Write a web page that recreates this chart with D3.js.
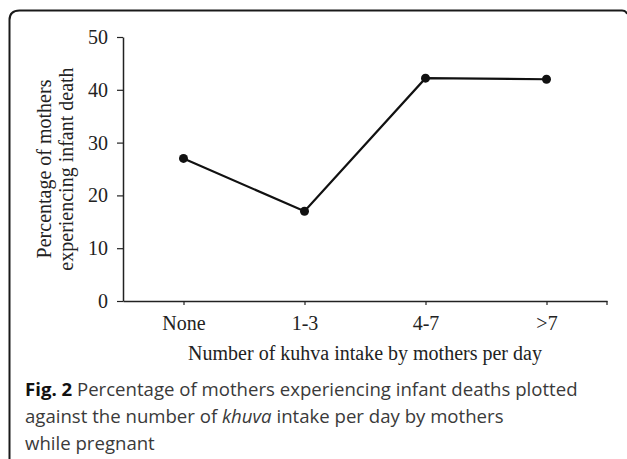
<!DOCTYPE html>
<html><head><meta charset="utf-8">
<script src="https://cdn.jsdelivr.net/npm/d3@7"></script>
<style>body{margin:0;background:#fff}svg{display:block}</style>
</head><body>
<script>
const categories = ["None", "1-3", "4-7", ">7"];
const values = [27, 17, 42.2, 42];
const yTicks = [0, 10, 20, 30, 40, 50];
const yTitle = ["Percentage of mothers", "experiencing infant death"];
const xTitle = "Number of kuhva intake by mothers per day";

(function () {
const W = 627, H = 459;
const svg = d3.select("body").append("svg").attr("width", W).attr("height", H);

// frame
svg.append("path")
  .attr("d", "M9.5,470 L9.5,20 Q9.5,10.5 19.5,10.5 L622,10.5 Q626,10.5 627,14")
  .attr("fill", "none").attr("stroke", "#1a1a1a").attr("stroke-width", 2);

const mL = 123, mR = 607, mT = 37, mB = 301;
const x = d3.scalePoint().domain(categories).range([mL, mR]).padding(0.5);
const y = d3.scaleLinear().domain([0, 50]).range([mB, mT]);

const serif = "'Liberation Serif', 'Times New Roman', serif";
const fs = 20;

const yAxis = svg.append("g").attr("transform", `translate(${mL},0)`)
  .call(d3.axisLeft(y).tickValues(yTicks).tickSize(6).tickSizeOuter(0).tickPadding(9));
const xAxis = svg.append("g").attr("transform", `translate(0,${mB})`)
  .call(d3.axisBottom(x).tickSize(4).tickSizeOuter(0).tickPadding(11));
xAxis.append("line").attr("x1", mR).attr("x2", mR).attr("y1", 0).attr("y2", 4).attr("stroke", "#222").attr("stroke-width", 1.2);
[yAxis, xAxis].forEach(g => {
  g.selectAll("path.domain").attr("stroke", "#222").attr("stroke-width", 1.5);
  g.selectAll(".tick line").attr("stroke", "#222").attr("stroke-width", 1.2);
  g.selectAll("text").attr("font-family", serif).attr("font-size", fs).attr("fill", "#222");
});

// line + points
svg.append("path").datum(values)
  .attr("d", d3.line().x((d, i) => x(categories[i])).y(d => y(d)))
  .attr("fill", "none").attr("stroke", "#111").attr("stroke-width", 2.2);
svg.selectAll("circle.pt").data(values).enter().append("circle")
  .attr("cx", (d, i) => x(categories[i])).attr("cy", d => y(d)).attr("r", 4.5).attr("fill", "#111");

// titles
svg.append("text").attr("x", 365).attr("y", 360)
  .attr("text-anchor", "middle").attr("font-family", serif).attr("font-size", fs).attr("fill", "#222")
  .text(xTitle);
yTitle.forEach((t, i) => {
  svg.append("text").attr("transform", `translate(${51 + i * 22},${(mT + mB) / 2}) rotate(-90)`)
    .attr("text-anchor", "middle").attr("font-family", serif).attr("font-size", fs).attr("fill", "#222")
    .text(t);
});

// caption
const cap = svg.append("g").attr("font-family", "'Open Sans', sans-serif").attr("font-size", 18.6).attr("fill", "#3a3a3a");
const l1 = cap.append("text").attr("x", 25).attr("y", 396);
l1.append("tspan").attr("font-weight", "bold").attr("fill", "#111").text("Fig. 2");
l1.append("tspan").text(" Percentage of mothers experiencing infant deaths plotted");
const l2 = cap.append("text").attr("x", 25).attr("y", 423);
l2.append("tspan").text("against the number of ");
l2.append("tspan").attr("font-style", "italic").text("khuva");
l2.append("tspan").text(" intake per day by mothers");
cap.append("text").attr("x", 25).attr("y", 450).text("while pregnant");
})();
</script>
</body></html>
